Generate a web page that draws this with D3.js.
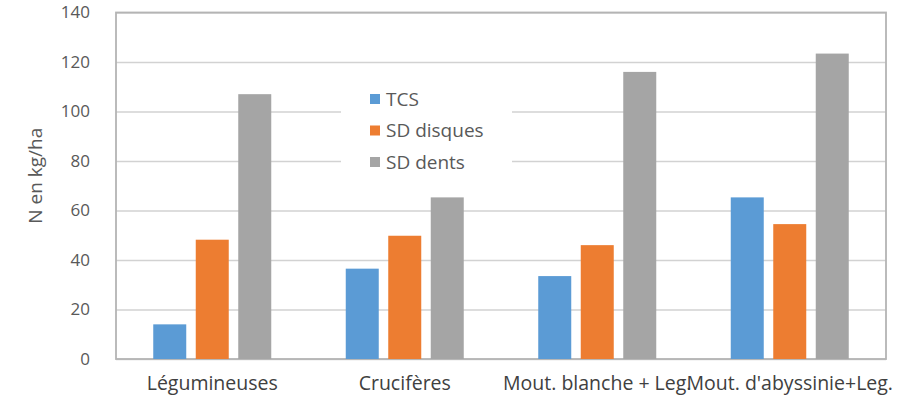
<html>
<meta charset="utf-8">
<head>
  <title>N en kg/ha</title>
</head>
<style>
body { margin: 0; background: #fff; }
text { font-family: "Open Sans", sans-serif; }
</style>
<body>
  <svg width="919" height="401"></svg>

<script src="https://d3js.org/d3.v7.min.js"></script>
<script>
var width = 919, height = 401

// data
var categories = ['Légumineuses', 'Crucifères', 'Mout. blanche + Leg.', "Mout. d'abyssinie+Leg."]
var series = ['TCS', 'SD disques', 'SD dents']
var tcs = [14, 36.5, 33.5, 65.3]
var sdDisques = [48.2, 49.8, 46, 54.5]
var sdDents = [107, 65.3, 116, 123.4]
var yTicks = [0, 20, 40, 60, 80, 100, 120, 140]
var colors = ['#5b9bd5', '#ed7d31', '#a5a5a5']

var values = [tcs, sdDisques, sdDents]
var rows = categories.map(function(c, i) {
  return {cat: c, vals: series.map(function(s, j) { return {s: s, v: values[j][i]} })}
})

var plotL = 116, plotR = 886, plotT = 12.5, plotB = 359

var svg = d3.select('svg')

var x0 = d3.scaleBand().domain(categories).range([plotL, plotR])
  .paddingInner(0.387).paddingOuter(0.1935)
var x1 = d3.scaleBand().domain(series).range([0, x0.bandwidth()]).paddingInner(0.2235)
var y = d3.scaleLinear().domain([0, 140]).range([plotB, plotT])
var color = d3.scaleOrdinal().domain(series).range(colors)

// gridlines
var yAxis = d3.axisLeft(y).tickValues(yTicks).tickSize(-(plotR - plotL)).tickPadding(26)
var gy = svg.append('g').attr('transform', 'translate(' + plotL + ',0)').call(yAxis)
gy.select('.domain').remove()
gy.selectAll('.tick line').attr('stroke', '#d2d2d2').attr('stroke-width', 1.6)
gy.selectAll('.tick text').attr('fill', '#595959').style('font-size', '17px')

// frame
svg.append('rect')
  .attr('x', plotL).attr('y', plotT)
  .attr('width', plotR - plotL).attr('height', plotB - plotT)
  .attr('fill', 'none').attr('stroke', '#b4b4b4').attr('stroke-width', 1.8)

// bars
var groups = svg.selectAll('g.grp').data(rows).enter().append('g')
  .attr('class', 'grp')
  .attr('transform', function(d) { return 'translate(' + x0(d.cat) + ',0)' })

groups.selectAll('rect').data(function(d) { return d.vals }).enter().append('rect')
  .attr('x', function(d) { return x1(d.s) })
  .attr('width', x1.bandwidth())
  .attr('y', function(d) { return y(d.v) })
  .attr('height', function(d) { return plotB - y(d.v) })
  .attr('fill', function(d) { return color(d.s) })

// x labels
var xAxis = d3.axisBottom(x0).tickSize(0).tickPadding(17)
var gx = svg.append('g').attr('transform', 'translate(0,' + plotB + ')').call(xAxis)
gx.select('.domain').remove()
gx.selectAll('.tick text').attr('fill', '#404040').style('font-size', '19.5px')

// y title
svg.append('text')
  .attr('transform', 'translate(42,' + ((plotT + plotB) / 2 - 10) + ') rotate(-90)')
  .attr('text-anchor', 'middle')
  .attr('fill', '#595959')
  .style('font-size', '19px')
  .text('N en kg/ha')

// legend
var legend = svg.append('g').attr('transform', 'translate(341,82)')
legend.append('rect').attr('width', 171).attr('height', 96).attr('fill', '#fff')
var items = legend.selectAll('g.item').data(series).enter().append('g')
  .attr('class', 'item')
  .attr('transform', function(d, i) { return 'translate(29,' + (17 + i * 31.5) + ')' })
items.append('rect').attr('x', 0).attr('y', -5).attr('width', 10).attr('height', 10)
  .attr('fill', function(d) { return color(d) })
items.append('text').attr('x', 16).attr('dy', '0.35em')
  .attr('fill', '#595959').style('font-size', '19px')
  .text(function(d) { return d })
</script>
</body>
</html>
